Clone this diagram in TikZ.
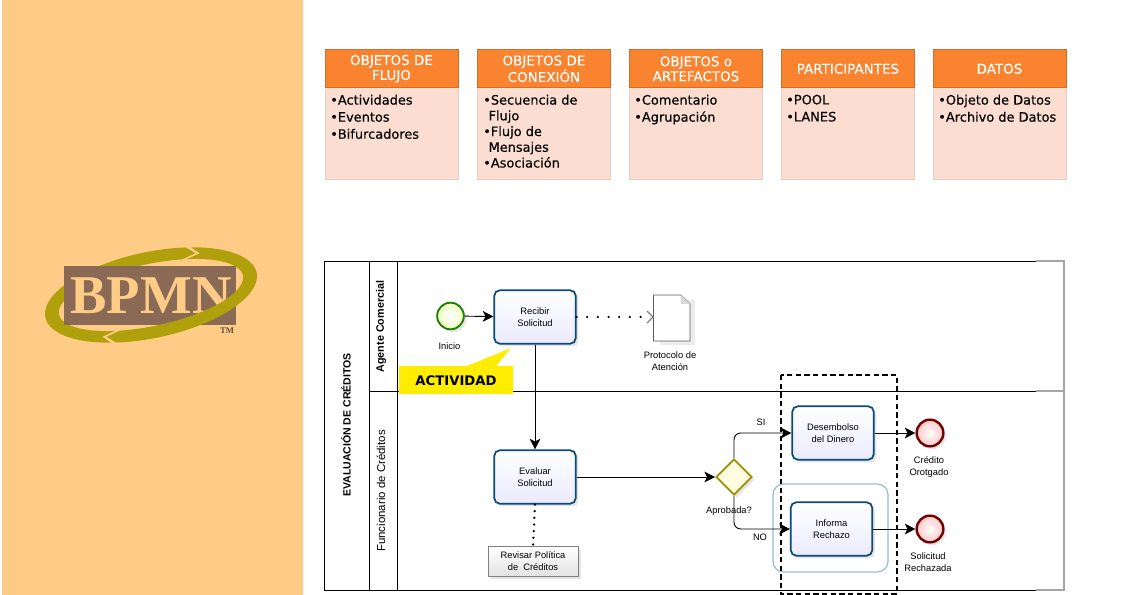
\documentclass[tikz,border=0pt]{standalone}
\usepackage{fontspec}
\setmainfont{Liberation Sans}
\newfontfamily\cardfont[FakeBold=0.25]{DejaVu Sans}
\newfontfamily\calloutfont{DejaVu Sans}
\newfontfamily\logofont{Liberation Serif}
\usepackage{tikz}
\usetikzlibrary{arrows.meta,shadows,shapes.geometric}
\definecolor{panelcol}{HTML}{FFCC88}
\definecolor{headcol}{HTML}{FA832F}
\definecolor{bodycol}{HTML}{FBDDD1}
\definecolor{ringcol}{HTML}{B0A00C}
\definecolor{brandcol}{HTML}{8A6A54}
\definecolor{taskcol}{HTML}{0A4A78}
\newcommand{\ringpart}[2]{
\fill[ringcol] (#1:108 and 43) arc[start angle=#1,end angle=#2,x radius=108,y radius=43]
-- ({#2-7}:101 and 37) -- (#2:94 and 31) arc[start angle=#2,end angle=#1,x radius=94,y radius=31]
-- ({#1-7}:101 and 37) -- cycle;
}
\begin{document}
\begin{tikzpicture}
[x=0.75pt, y=-0.75pt,
softshade/.style={drop shadow={shadow xshift=2pt,shadow yshift=-2pt,opacity=0.2}},
cardhead/.style={fill=headcol, draw=headcol!85!black, minimum width=100pt, minimum height=28.5pt, anchor=north west, inner sep=0pt, align=center, text=white, font=\cardfont\fontsize{10.1}{11.2}\selectfont},
cardbody/.style={fill=bodycol, draw=bodycol!85!gray, minimum width=100pt, minimum height=69pt, anchor=north west, inner sep=0pt},
cardtext/.style={anchor=north west, inner sep=0pt, align=left, font=\cardfont\fontsize{9.7}{12.8}\selectfont},
lane/.style={black, line width=0.7pt},
paleline/.style={gray!70, line width=0.9pt},
lanetext/.style={rotate=90, inner sep=0pt, font=\fontsize{8.6}{9}\selectfont},
tasknode/.style={draw=taskcol, line width=1.3pt, rounded corners=4pt, minimum width=61pt, minimum height=40pt, inner sep=0pt, align=center, top color=white, bottom color=blue!8, softshade, font=\fontsize{7}{8.6}\selectfont},
startnode/.style={circle, draw=green!45!black!90!yellow, line width=1.4pt, minimum size=20pt, inner sep=0pt, inner color=white, outer color=green!20!yellow!25, softshade},
endnode/.style={circle, draw=red!45!black, line width=1.8pt, minimum size=20pt, inner sep=0pt, inner color=white, outer color=red!22, softshade},
gatenode/.style={diamond, aspect=1, draw=olive!90!yellow, line width=1.4pt, minimum size=27pt, inner sep=0pt, fill=yellow!12, softshade},
label/.style={inner sep=0pt, align=center, font=\fontsize{7}{8.6}\selectfont},
flow/.style={line width=0.7pt, -{Stealth[length=8pt,width=8pt,inset=2pt]}},
note/.style={line width=1.9pt, dash pattern=on 0pt off 5pt, line cap=round}]
\useasboundingbox (0,0) rectangle (1147,595);
\fill[white] (0,0) rectangle (1147,595);
\fill[panelcol] (2,0) rectangle (303,595);
% logo
\begin{scope}[shift={(151,295)}, rotate=12, y=0.75pt]
\ringpart{243}{66}
\end{scope}
\node[fill=brandcol, minimum width=129pt, minimum height=44pt, inner sep=0pt] (brand) at (149.5,295.5) {};
\node[text=panelcol, inner sep=0pt, font=\logofont\bfseries\fontsize{41}{41}\selectfont] (brandtext) at (151,296) {BPMN};
\begin{scope}[shift={(151,295)}, rotate=12, y=0.75pt]
\ringpart{63}{-114}
\end{scope}
\node[text=brandcol!70!black, inner sep=0pt, font=\logofont\bfseries\fontsize{6.5}{7}\selectfont] (brandtm) at (227,331) {TM};
% cards
\node[cardbody] (bodya) at (324.5,87) {};
\node[cardbody] (bodyb) at (477,87) {};
\node[cardbody] (bodyc) at (629,87) {};
\node[cardbody] (bodyd) at (781,87) {};
\node[cardbody] (bodye) at (932.5,87) {};
\node[cardhead] (heada) at (324.5,49.5) {OBJETOS DE\\FLUJO};
\node[cardhead] (headb) at (477,49.5) {OBJETOS DE\\CONEXIÓN};
\node[cardhead] (headc) at (629,49.5) {OBJETOS o\\ARTEFACTOS};
\node[cardhead] (headd) at (781,49.5) {PARTICIPANTES};
\node[cardhead] (heade) at (932.5,49.5) {DATOS};
\node[cardtext] (texta) at (330,94.5) {•Actividades\\•Eventos\\•Bifurcadores};
\node[cardtext, font=\cardfont\fontsize{9.7}{11.8}\selectfont] (textb) at (483,94.5) {•Secuencia de\\\hspace{4pt}Flujo\\•Flujo de\\\hspace{4pt}Mensajes\\•Asociación};
\node[cardtext] (textc) at (634,94.5) {•Comentario\\•Agrupación};
\node[cardtext] (textd) at (786,94.5) {•POOL\\•LANES};
\node[cardtext] (texte) at (938,94.5) {•Objeto de Datos\\•Archivo de Datos};
% pool
\draw[lane] (324.5,261) rectangle (1064,590);
\draw[lane] (369,261) -- (369,590);
\draw[lane] (397,261) -- (397,590);
\draw[lane] (369,391) -- (1064,391);
\draw[paleline] (1036,261) -- (1064,261) -- (1064,590) -- (1036,590);
\draw[paleline] (1036,391) -- (1064,391);
\node[lanetext, font=\bfseries\fontsize{7.9}{9}\selectfont] (poolname) at (346,425) {EVALUACIÓN DE CRÉDITOS};
\node[lanetext, font=\bfseries\fontsize{8.1}{9}\selectfont] (laneone) at (381,326.5) {Agente Comercial};
\node[lanetext] (lanetwo) at (381,491) {Funcionario de Créditos};
% group and selection
\draw[rounded corners=8pt, draw=cyan!35!gray!70, line width=0.9pt] (773,484) rectangle (888,572);
% flow objects
\node[startnode] (inicio) at (450.5,316) {};
\node[tasknode] (recibir) at (535,317) {Recibir\\Solicitud};
\node[tasknode] (evaluar) at (535,477) {Evaluar\\Solicitud};
\node[gatenode] (gate) at (734,477) {};
\node[tasknode] (desembolso) at (833,433) {Desembolso\\del Dinero};
\node[tasknode] (informa) at (831.5,529) {Informa\\Rechazo};
\node[endnode] (credito) at (930,433) {};
\node[endnode] (rechazada) at (930,529) {};
\node[label] (lblinicio) at (449.5,346) {Inicio};
\node[label] (lblprotocolo) at (670,361) {Protocolo de\\Atención};
\node[label] (lblsi) at (761,422) {SI};
\node[label] (lblno) at (760,537) {NO};
\node[label] (lblaprobada) at (729,511) {Aprobada?};
\node[label] (lblcredito) at (929,467) {Crédito\\Orotgado};
\node[label] (lblrechazada) at (928,562) {Solicitud\\Rechazada};
% document
\fill[black, opacity=0.08] (660,300) rectangle (695,345);
\draw[gray!70!black, fill=white, line width=0.6pt] (653.5,295) -- (681,295) -- (690,304) -- (690,341) -- (653.5,341) -- cycle;
\fill[gray!30] (681,295) -- (690,304) -- (681,304) -- cycle;
\coordinate (docin) at (651,317);
% comment
\node[draw=gray, line width=0.6pt, top color=white, bottom color=gray!22, minimum width=67.5pt, minimum height=22.5pt, inner sep=0pt, align=center, softshade, font=\fontsize{7}{8.6}\selectfont] (revisar) at (533,561) {Revisar Política\\de\ \ Créditos};
% connectors
\draw[flow] (inicio) -- (recibir);
\draw[flow] (recibir) -- (evaluar);
\draw[flow] (evaluar) -- (gate);
\draw[flow, rounded corners=5pt] (gate.north) |- (desembolso.west);
\draw[flow, rounded corners=5pt] (gate.south) |- (informa.west);
\draw[flow] (desembolso) -- (credito);
\draw[flow] (informa) -- (rechazada);
\draw[note, dash pattern=on 0pt off 8pt] (recibir.east) -- (docin);
\draw[gray, line width=1pt] (647,311) -- (653,317) -- (647,323);
\draw[note] (evaluar.south) -- (revisar.north);
\draw[line width=0.9pt, dash pattern=on 4pt off 2.5pt] (781,375) rectangle (897,594);
% callout
\fill[yellow!95!orange] (399,366) -- (467,366) -- (511,348) -- (496,366) -- (513,366) -- (513,394) -- (399,394) -- cycle;
\node[inner sep=0pt, font=\calloutfont\bfseries\fontsize{9.9}{11}\selectfont] (actividad) at (456,380.5) {ACTIVIDAD};
\end{tikzpicture}
\end{document}
